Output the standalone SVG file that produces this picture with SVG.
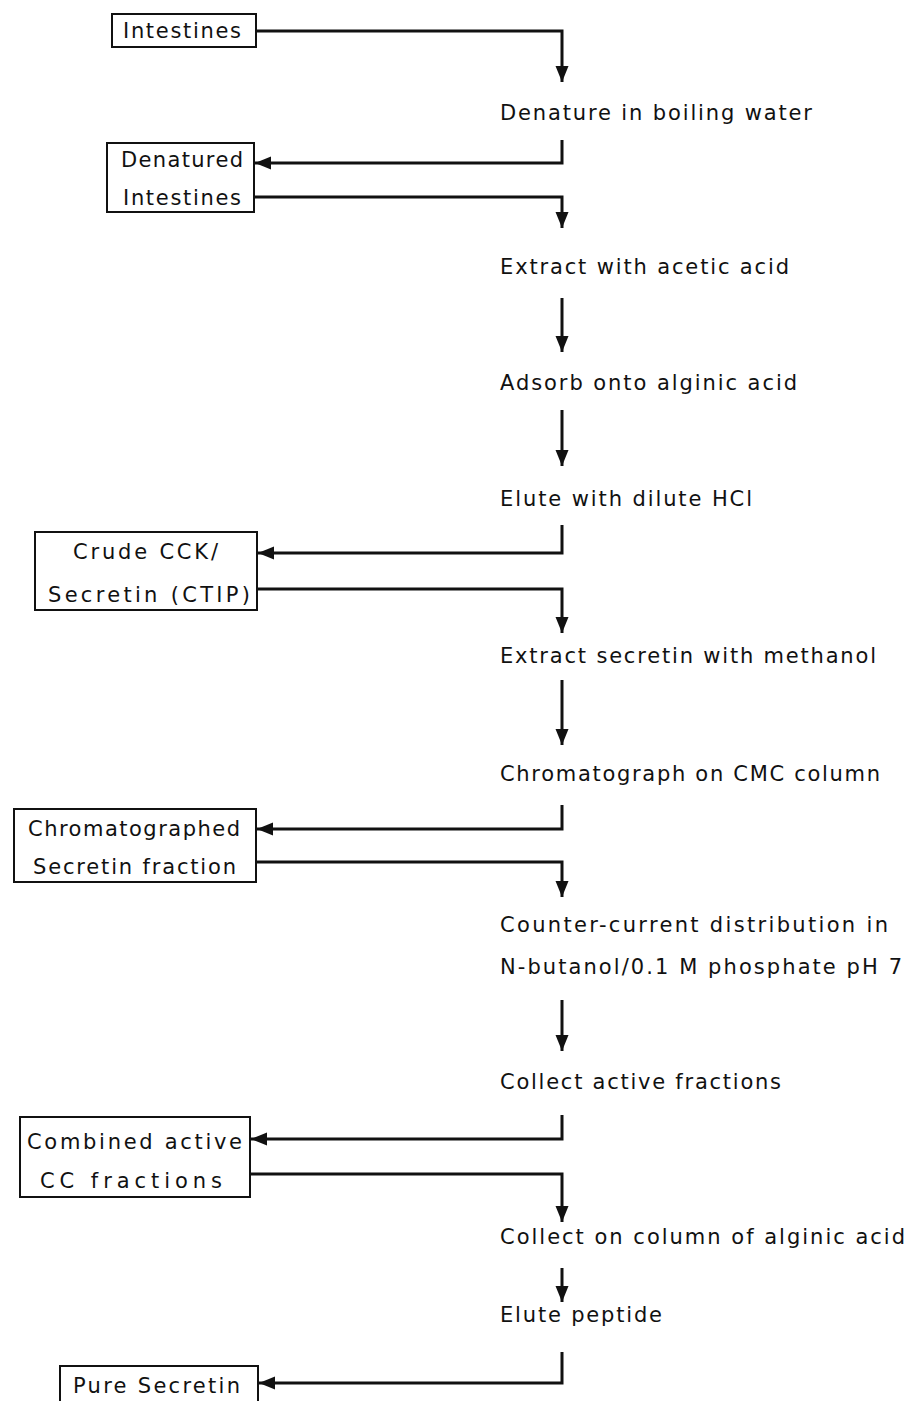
<svg xmlns="http://www.w3.org/2000/svg" width="911" height="1401" viewBox="0 0 911 1401">
<style>
.box{fill:#fff;stroke:#111;stroke-width:2}
.t{font-family:"DejaVu Sans","Liberation Sans",sans-serif;font-size:21px;fill:#111}
.c{fill:none;stroke:#111;stroke-width:3}
</style>
<defs>
<marker id="ah" markerUnits="userSpaceOnUse" markerWidth="18" markerHeight="16" refX="16" refY="8" orient="auto">
<path d="M0,1.5 L16,8 L0,14.5 Z" fill="#111"/>
</marker>
</defs>
<rect width="911" height="1401" fill="#fff"/>
<g id="connectors">
<path class="c" d="M256,31 H562 V82" marker-end="url(#ah)"/>
<path class="c" d="M562,140 V163 H255" marker-end="url(#ah)"/>
<path class="c" d="M254,197 H562 V228" marker-end="url(#ah)"/>
<path class="c" d="M562,298 V352" marker-end="url(#ah)"/>
<path class="c" d="M562,410 V466" marker-end="url(#ah)"/>
<path class="c" d="M562,525 V553 H258" marker-end="url(#ah)"/>
<path class="c" d="M257,589 H562 V633" marker-end="url(#ah)"/>
<path class="c" d="M562,680 V745" marker-end="url(#ah)"/>
<path class="c" d="M562,805 V829 H257" marker-end="url(#ah)"/>
<path class="c" d="M256,862 H562 V897" marker-end="url(#ah)"/>
<path class="c" d="M562,1000 V1051" marker-end="url(#ah)"/>
<path class="c" d="M562,1115 V1139 H251" marker-end="url(#ah)"/>
<path class="c" d="M250,1174 H562 V1222" marker-end="url(#ah)"/>
<path class="c" d="M562,1268 V1302" marker-end="url(#ah)"/>
<path class="c" d="M562,1352 V1383 H259" marker-end="url(#ah)"/>
</g>
<g id="n-intestines">
<rect class="box" x="112" y="14" width="144" height="33"/>
<text class="t" x="123" y="38" textLength="118" lengthAdjust="spacing">Intestines</text>
</g>
<g id="s-denature">
<text class="t" x="500" y="120" textLength="312" lengthAdjust="spacing">Denature in boiling water</text>
</g>
<g id="n-denatured">
<rect class="box" x="107" y="143" width="147" height="69"/>
<text class="t" x="121" y="167" textLength="122" lengthAdjust="spacing">Denatured</text>
<text class="t" x="123" y="205" textLength="118" lengthAdjust="spacing">Intestines</text>
</g>
<g id="s-extract">
<text class="t" x="500" y="274" textLength="289" lengthAdjust="spacing">Extract with acetic acid</text>
</g>
<g id="s-adsorb">
<text class="t" x="500" y="390" textLength="297" lengthAdjust="spacing">Adsorb onto alginic acid</text>
</g>
<g id="s-elute">
<text class="t" x="500" y="506" textLength="252" lengthAdjust="spacing">Elute with dilute HCl</text>
</g>
<g id="n-crude">
<rect class="box" x="35" y="532" width="222" height="78"/>
<text class="t" x="73" y="559" textLength="145" lengthAdjust="spacing">Crude CCK/</text>
<text class="t" x="48" y="602" textLength="202" lengthAdjust="spacing">Secretin (CTIP)</text>
</g>
<g id="s-methanol">
<text class="t" x="500" y="663" textLength="376" lengthAdjust="spacing">Extract secretin with methanol</text>
</g>
<g id="s-chromatograph">
<text class="t" x="500" y="781" textLength="380" lengthAdjust="spacing">Chromatograph on CMC column</text>
</g>
<g id="n-chromatographed">
<rect class="box" x="14" y="809" width="242" height="73"/>
<text class="t" x="28" y="836" textLength="212" lengthAdjust="spacing">Chromatographed</text>
<text class="t" x="33" y="874" textLength="203" lengthAdjust="spacing">Secretin fraction</text>
</g>
<g id="s-ccd">
<text class="t" x="500" y="932" textLength="388" lengthAdjust="spacing">Counter-current distribution in</text>
<text class="t" x="500" y="974" textLength="402" lengthAdjust="spacing">N-butanol/0.1 M phosphate pH 7</text>
</g>
<g id="s-collect">
<text class="t" x="500" y="1089" textLength="281" lengthAdjust="spacing">Collect active fractions</text>
</g>
<g id="n-combined">
<rect class="box" x="20" y="1117" width="230" height="80"/>
<text class="t" x="27" y="1149" textLength="215" lengthAdjust="spacing">Combined active</text>
<text class="t" x="40" y="1188" textLength="182" lengthAdjust="spacing">CC fractions</text>
</g>
<g id="s-column">
<text class="t" x="500" y="1244" textLength="405" lengthAdjust="spacing">Collect on column of alginic acid</text>
</g>
<g id="s-elute-peptide">
<text class="t" x="500" y="1322" textLength="162" lengthAdjust="spacing">Elute peptide</text>
</g>
<g id="n-pure">
<rect class="box" x="60" y="1366" width="198" height="40"/>
<text class="t" x="73" y="1393" textLength="167" lengthAdjust="spacing">Pure Secretin</text>
</g>
</svg>
